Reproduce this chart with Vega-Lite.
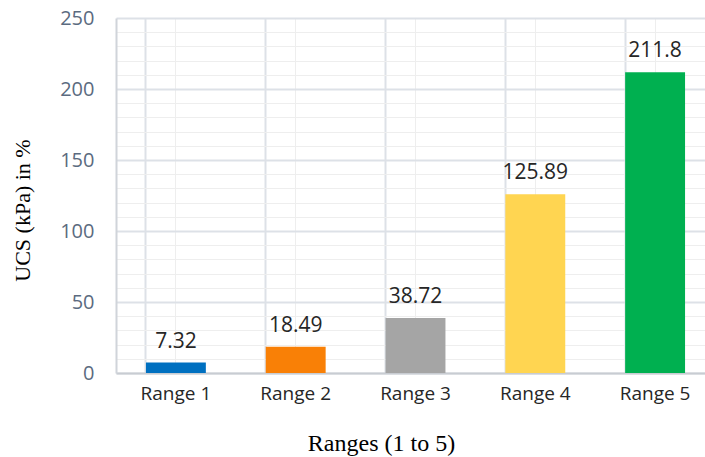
{
  "$schema": "https://vega.github.io/schema/vega-lite/v6.json",
  "width": 589,
  "height": 355,
  "autosize": "none",
  "padding": {"left": 116, "top": 18, "right": 0, "bottom": 84},
  "background": "white",
  "config": {"view": {"stroke": null}},
  "data": {
    "values": [
      {"range": "Range 1", "value": 7.32, "label": "7.32", "color": "#0070C0"},
      {"range": "Range 2", "value": 18.49, "label": "18.49", "color": "#F98006"},
      {"range": "Range 3", "value": 38.72, "label": "38.72", "color": "#A5A5A5"},
      {"range": "Range 4", "value": 125.89, "label": "125.89", "color": "#FFD551"},
      {"range": "Range 5", "value": 211.8, "label": "211.8", "color": "#00B050"}
    ]
  },
  "encoding": {
    "y": {
      "field": "value", "type": "quantitative",
      "scale": {"domain": [0, 250], "nice": false},
      "axis": {
        "values": [0,10,20,30,40,50,60,70,80,90,100,110,120,130,140,150,160,170,180,190,200,210,220,230,240,250],
        "labelExpr": "datum.value % 50 === 0 ? datum.label : ''",
        "grid": true,
        "gridColor": {"condition": {"test": "datum.value % 50 === 0", "value": "#dde1e7"}, "value": "#eeeeee"},
        "gridWidth": {"condition": {"test": "datum.value % 50 === 0", "value": 2}, "value": 1},
        "ticks": false,
        "domain": true, "domainColor": "#d0d4da", "domainWidth": 2,
        "labelFont": "Open Sans", "labelFontSize": 20, "labelColor": "#5b6b80",
        "labelPadding": 22,
        "title": "UCS (kPa) in %",
        "titleFont": "Liberation Serif", "titleFontSize": 22, "titleFontWeight": "normal",
        "titleColor": "#000000",
        "titleAngle": 270, "titleAlign": "center", "titleBaseline": "middle",
        "titleX": -94, "titleY": 192
      }
    }
  },
  "layer": [
    {
      "mark": {"type": "bar"},
      "encoding": {
        "x": {
          "field": "range", "type": "nominal", "sort": null,
          "scale": {"paddingInner": 0.5, "paddingOuter": 0.25, "range": [0, 599]},
          "axis": {
            "orient": "bottom",
            "title": null, "labels": false, "ticks": false, "domain": false,
            "grid": true, "bandPosition": 0, "gridColor": "#dde1e7", "gridWidth": 2
          }
        },
        "color": {"field": "color", "type": "nominal", "scale": null}
      }
    },
    {
      "mark": {"type": "text", "baseline": "alphabetic", "dy": -15, "font": "Open Sans", "fontSize": 21, "color": "#262626"},
      "encoding": {
        "x": {
          "field": "range", "type": "nominal", "sort": null,
          "axis": {
            "orient": "bottom",
            "grid": true, "gridColor": "#eeeeee", "gridWidth": 1,
            "ticks": false, "domain": true, "domainColor": "#c8ccd2", "domainWidth": 2,
            "labelAngle": 0, "labelFont": "Open Sans", "labelFontSize": 19, "labelColor": "#262626",
            "labelPadding": 11,
            "title": "Ranges (1 to 5)",
            "titleFont": "Liberation Serif", "titleFontSize": 24, "titleFontWeight": "normal",
            "titleColor": "#000000", "titleAlign": "center", "titleBaseline": "middle",
            "titleX": 265, "titleY": 70
          }
        },
        "text": {"field": "label", "type": "nominal"}
      }
    }
  ],
  "resolve": {"axis": {"x": "independent"}}
}
